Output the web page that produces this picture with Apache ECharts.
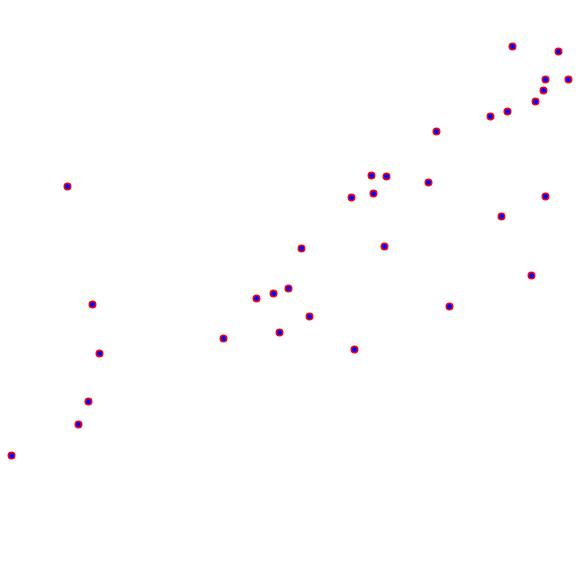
<!DOCTYPE html>
<html>
<head>
<meta charset="utf-8">
<script src="https://cdn.jsdelivr.net/npm/echarts@6/dist/echarts.min.js"></script>
<style>
  html, body { margin: 0; padding: 0; background: #fff; }
  #chart { width: 580px; height: 580px; }
</style>
</head>
<body>
<div id="chart"></div>
<script>
// point values (x grows right, y grows up, range 0..580)
const xValues = [512.5, 558.5, 545.5, 568.5, 543.5, 535.5, 507.5, 490.5, 436.5, 371.5, 386.5, 428.5, 67.5, 373.5, 351.5, 545.5, 501.5,
  301.5, 384.5, 531.5, 288.5, 273.5, 256.5, 92.5, 449.5, 309.5, 279.5, 223.5, 354.5, 99.5, 88.5, 78.5, 11.5];
const yValues = [533.5, 528.5, 500.5, 500.5, 489.5, 478.5, 468.5, 463.5, 448.5, 404.5, 403.5, 397.5, 393.5, 386.5, 382.5, 383.5, 363.5,
  331.5, 333.5, 304.5, 291.5, 286.5, 281.5, 275.5, 273.5, 263.5, 247.5, 241.5, 230.5, 226.5, 178.5, 155.5, 124.5];

const points = xValues.map((x, i) => [x, yValues[i]]);

const chart = echarts.init(document.getElementById('chart'));
const option = {
  animation: false,
  backgroundColor: '#fff',
  grid: { left: 0, right: 0, top: 0, bottom: 0 },
  xAxis: { type: 'value', min: 0, max: 580, show: false },
  yAxis: { type: 'value', min: 0, max: 580, show: false },
  series: [{
    type: 'scatter',
    data: points,
    symbol: 'circle',
    symbolSize: 6.5,
    itemStyle: {
      color: '#0000ff',
      borderColor: '#ff0000',
      borderWidth: 1.5,
      opacity: 1,
    },
  }],
};
chart.setOption(option);
</script>
</body>
</html>
